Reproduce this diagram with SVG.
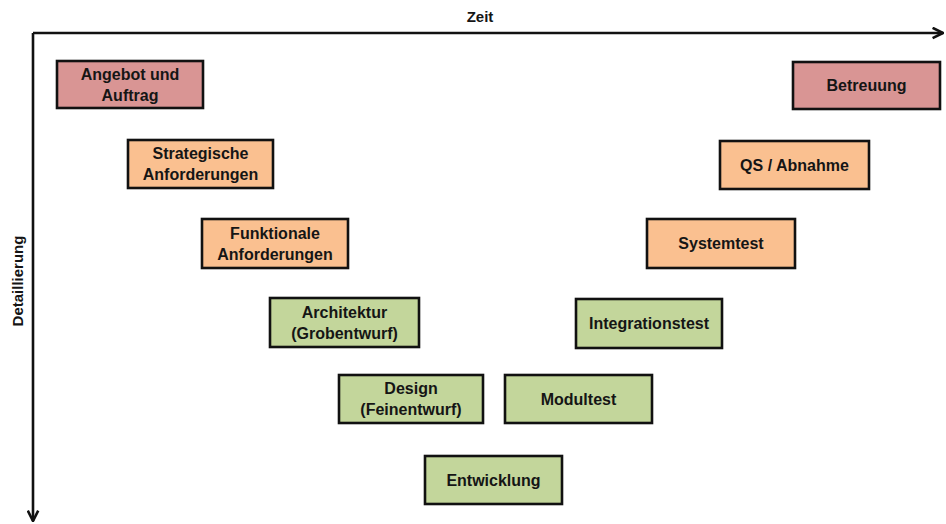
<svg xmlns="http://www.w3.org/2000/svg" width="946" height="524" viewBox="0 0 946 524">
  <style>
    .box { stroke: #111; stroke-width: 2.6; }
    .red { fill: #D99594; }
    .orange { fill: #FAC090; }
    .green { fill: #C3D69B; }
    text { font-family: "Liberation Sans", Arial, sans-serif; font-weight: bold; fill: #151515; }
    .lbl { font-size: 16px; text-anchor: middle; }
    .axis-label { font-size: 15px; text-anchor: middle; }
    .axis { stroke: #111; stroke-width: 2.6; fill: none; }
  </style>
  <defs>
    <marker id="chev" viewBox="0 0 10 10" refX="9" refY="5" markerWidth="5" markerHeight="5" orient="auto" markerUnits="strokeWidth">
      <path d="M1,1 L9,5 L1,9" fill="none" stroke="#111" stroke-width="2"/>
    </marker>
  </defs>

  <rect width="946" height="524" fill="#fff"/>

  <!-- axes -->
  <g id="connectors">
    <path class="axis" d="M33,33 H943" marker-end="url(#chev)"/>
    <path class="axis" d="M33,33 V521" marker-end="url(#chev)"/>
  </g>
  <text class="axis-label" x="480" y="22">Zeit</text>
  <text class="axis-label" transform="translate(23,281) rotate(-90)">Detaillierung</text>

  <!-- left branch -->
  <g id="angebot">
    <rect class="box red" x="57" y="61" width="146" height="47"/>
    <text class="lbl" x="130" y="80">Angebot und</text>
    <text class="lbl" x="130" y="101">Auftrag</text>
  </g>
  <g id="strategische">
    <rect class="box orange" x="128" y="140" width="145" height="48"/>
    <text class="lbl" x="200.5" y="159">Strategische</text>
    <text class="lbl" x="200.5" y="180">Anforderungen</text>
  </g>
  <g id="funktionale">
    <rect class="box orange" x="202" y="219" width="146" height="49"/>
    <text class="lbl" x="275" y="239">Funktionale</text>
    <text class="lbl" x="275" y="260">Anforderungen</text>
  </g>
  <g id="architektur">
    <rect class="box green" x="270" y="298" width="149" height="49"/>
    <text class="lbl" x="344.5" y="318">Architektur</text>
    <text class="lbl" x="344.5" y="339">(Grobentwurf)</text>
  </g>
  <g id="design">
    <rect class="box green" x="339" y="375" width="144" height="48"/>
    <text class="lbl" x="411" y="394">Design</text>
    <text class="lbl" x="411" y="415">(Feinentwurf)</text>
  </g>

  <!-- bottom -->
  <g id="entwicklung">
    <rect class="box green" x="425" y="456" width="137" height="48"/>
    <text class="lbl" x="493.5" y="486">Entwicklung</text>
  </g>

  <!-- right branch -->
  <g id="modultest">
    <rect class="box green" x="505" y="375" width="147" height="48"/>
    <text class="lbl" x="578.5" y="405">Modultest</text>
  </g>
  <g id="integrationstest">
    <rect class="box green" x="576" y="299" width="146" height="49"/>
    <text class="lbl" x="649" y="329">Integrationstest</text>
  </g>
  <g id="systemtest">
    <rect class="box orange" x="647" y="219" width="148" height="49"/>
    <text class="lbl" x="721" y="249">Systemtest</text>
  </g>
  <g id="qs">
    <rect class="box orange" x="720" y="141" width="149" height="48"/>
    <text class="lbl" x="794.5" y="171">QS / Abnahme</text>
  </g>
  <g id="betreuung">
    <rect class="box red" x="793" y="62" width="147" height="47"/>
    <text class="lbl" x="866.5" y="91">Betreuung</text>
  </g>
</svg>
